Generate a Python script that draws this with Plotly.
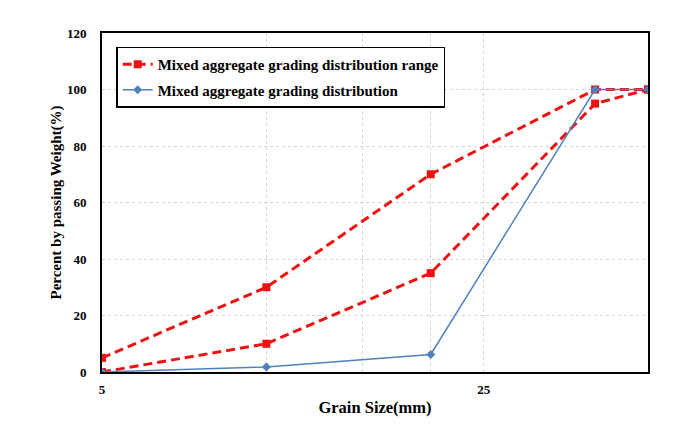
import plotly.graph_objects as go

grain_size = [5, 10, 20, 40, 50]
range_upper = [5, 30, 70, 100, 100]
range_lower = [0, 10, 35, 95, 100]
mixed = [0, 1.8, 6.2, 100, 100]

x_tickvals = [5, 10, 15, 20, 25]
x_ticktext = ["5", "", "", "", "25"]
y_tickvals = [0, 20, 40, 60, 80, 100, 120]

RED = "#EE1111"
BLUE = "#4F81BD"
FONT = "Liberation Serif"

fig = go.Figure()
fig.add_trace(go.Scatter(
    x=grain_size, y=range_upper, mode="lines+markers",
    name="Mixed aggregate grading distribution range",
    line=dict(color=RED, width=3, dash="9px,5px"),
    marker=dict(symbol="square", size=8, color=RED),
    legendgroup="r",
))
fig.add_trace(go.Scatter(
    x=grain_size, y=range_lower, mode="lines+markers",
    name="Mixed aggregate grading distribution range",
    line=dict(color=RED, width=3, dash="9px,5px"),
    marker=dict(symbol="square", size=8, color=RED),
    legendgroup="r", showlegend=False,
))
fig.add_trace(go.Scatter(
    x=grain_size, y=mixed, mode="lines+markers",
    name="Mixed aggregate grading distribution",
    line=dict(color=BLUE, width=1.5),
    marker=dict(symbol="diamond", size=7, color=BLUE),
    legendgroup="b",
))

fig.update_layout(
    width=679, height=427,
    paper_bgcolor="white", plot_bgcolor="white",
    margin=dict(l=94, r=39, t=25, b=63),
    font=dict(family=FONT, color="black", size=13),
    showlegend=True,
    legend=dict(
        x=0.026, y=0.96, xanchor="left", yanchor="top",
        bgcolor="white", bordercolor="black", borderwidth=1.5,
        font=dict(family=FONT, size=15, weight="bold"),
        tracegroupgap=3, itemwidth=30, traceorder="grouped",
    ),
)
fig.update_xaxes(
    type="log", range=[0.69897, 1.69897], automargin=False,
    tickvals=x_tickvals, ticktext=x_ticktext,
    showgrid=True, gridcolor="#d4d4d4", griddash="dot", gridwidth=1,
    showline=True, linecolor="black", linewidth=2, mirror=True,
    ticks="", ticklabelstandoff=4,
    tickfont=dict(family=FONT, size=13, weight="bold"),
    title=dict(text="Grain Size(mm)", standoff=6,
               font=dict(family=FONT, size=16.5, weight="bold")),
    zeroline=False,
)
fig.update_yaxes(
    range=[0, 120], tickvals=y_tickvals, automargin=False,
    showgrid=True, gridcolor="#d4d4d4", griddash="dot", gridwidth=1,
    showline=True, linecolor="black", linewidth=2, mirror=True,
    ticks="", ticklabelstandoff=11,
    tickfont=dict(family=FONT, size=13, weight="bold"),
    title=dict(text="Percent by passing Weight(%)", standoff=2,
               font=dict(family=FONT, size=15, weight="bold")),
    zeroline=False,
)

fig.write_html("out.html")
